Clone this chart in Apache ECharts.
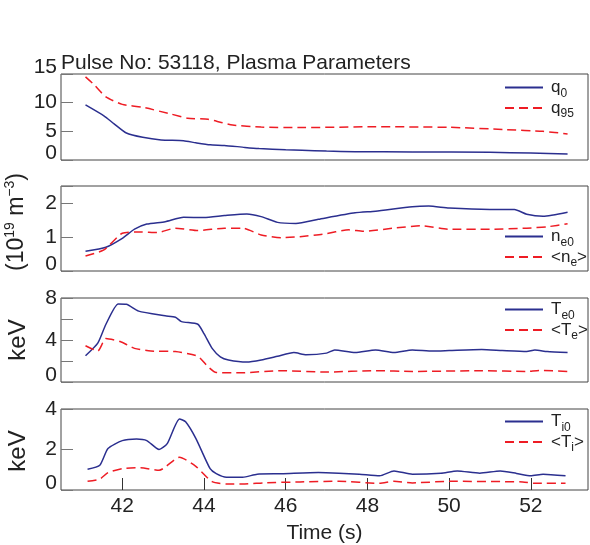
<!DOCTYPE html>
<html>
<head>
<meta charset="utf-8">
<script src="https://cdn.jsdelivr.net/npm/echarts@6/dist/echarts.min.js"></script>
<style>
  html, body { margin: 0; padding: 0; background: #fff; }
  #main { width: 590px; height: 545px; }
</style>
</head>
<body>
<div id="main"></div>
<script>
// * 等离子体参数 - 四个上下排列的面板
const chart = echarts.init(document.getElementById('main'))

// ? 数据：[时间 (s), 数值]
const q0 = [[41.1, 9.6], [41.55, 7.7], [41.8, 6.3], [42.1, 4.7], [42.5, 3.95], [42.95, 3.5], [43.5, 3.35], [43.8, 3.0], [44.15, 2.65], [44.5, 2.55], [45.0, 2.2], [45.35, 2.0], [46.0, 1.8], [46.4, 1.7], [47.0, 1.55], [47.7, 1.45], [49.1, 1.4], [51.0, 1.35], [52.0, 1.2], [52.9, 1.05]]
const q95 = [[41.1, 14.5], [41.3, 13.2], [41.6, 11.0], [42.0, 9.7], [42.5, 9.2], [43.2, 8.0], [43.6, 7.3], [44.1, 7.1], [44.4, 6.6], [44.7, 6.1], [45.4, 5.75], [46.4, 5.65], [48.2, 5.8], [50.0, 5.7], [51.4, 5.3], [52.3, 5.0], [52.9, 4.55]]
const ne0 = [[41.1, 0.58], [41.6, 0.70], [42.0, 0.96], [42.3, 1.23], [42.6, 1.38], [43.05, 1.45], [43.5, 1.58], [44.0, 1.57], [44.5, 1.63], [45.05, 1.68], [45.4, 1.6], [45.8, 1.43], [46.25, 1.40], [46.8, 1.52], [47.7, 1.71], [48.2, 1.76], [49.1, 1.89], [49.5, 1.91], [50.0, 1.85], [51.0, 1.81], [51.6, 1.81], [51.9, 1.67], [52.3, 1.61], [52.9, 1.73]]
const neAvg = [[41.1, 0.44], [41.55, 0.62], [42.0, 1.11], [42.45, 1.15], [42.85, 1.13], [43.3, 1.26], [43.85, 1.19], [44.5, 1.26], [44.95, 1.26], [45.4, 1.06], [45.9, 0.98], [46.35, 1.01], [46.9, 1.08], [47.55, 1.21], [47.9, 1.17], [48.65, 1.26], [49.3, 1.33], [50.0, 1.23], [51.0, 1.23], [51.9, 1.26], [52.4, 1.30], [52.9, 1.39]]
const te0 = [[41.1, 2.5], [41.4, 3.7], [41.6, 5.5], [41.9, 7.43], [42.1, 7.4], [42.4, 6.75], [43.05, 6.3], [43.3, 6.16], [43.45, 5.75], [43.85, 5.5], [44.0, 4.6], [44.2, 3.2], [44.4, 2.4], [44.6, 2.1], [45.05, 1.9], [45.4, 2.1], [45.8, 2.45], [46.2, 2.8], [46.5, 2.6], [47.0, 2.75], [47.2, 3.05], [47.7, 2.8], [48.2, 3.05], [48.65, 2.8], [49.1, 3.05], [49.6, 2.95], [50.0, 3.0], [50.8, 3.1], [51.3, 3.0], [51.9, 2.9], [52.1, 3.05], [52.4, 2.9], [52.9, 2.8]]
const teAvg = [[41.1, 3.45], [41.4, 2.95], [41.6, 4.15], [41.95, 3.85], [42.3, 3.2], [42.7, 2.95], [43.3, 2.9], [43.85, 2.45], [44.1, 1.45], [44.3, 0.9], [44.9, 0.88], [45.9, 1.08], [47.0, 0.95], [48.2, 1.08], [49.1, 1.0], [50.8, 1.08], [51.9, 1.0], [52.2, 1.1], [52.9, 1.0]]
const ti0 = [[41.15, 1.02], [41.45, 1.22], [41.65, 2.05], [42.0, 2.44], [42.35, 2.52], [42.6, 2.44], [42.9, 2.0], [43.1, 2.29], [43.4, 3.51], [43.55, 3.37], [43.8, 2.55], [44.15, 1.05], [44.3, 0.81], [44.55, 0.63], [44.95, 0.63], [45.3, 0.78], [45.9, 0.8], [46.8, 0.86], [47.3, 0.83], [47.8, 0.78], [48.3, 0.7], [48.65, 0.94], [49.1, 0.78], [49.8, 0.83], [50.2, 0.94], [50.75, 0.83], [51.25, 0.94], [51.65, 0.82], [52.0, 0.7], [52.3, 0.78], [52.85, 0.7]]
const tiAvg = [[41.15, 0.43], [41.45, 0.54], [41.65, 0.86], [42.0, 1.06], [42.45, 1.1], [42.9, 0.97], [43.4, 1.62], [43.8, 1.17], [44.2, 0.41], [44.55, 0.3], [45.0, 0.3], [45.45, 0.35], [46.35, 0.4], [47.3, 0.43], [48.3, 0.33], [48.65, 0.43], [49.1, 0.35], [50.0, 0.43], [51.8, 0.4], [52.1, 0.33], [52.85, 0.33]]

// ? 刻度
const timeTicks = [42, 44, 46, 48, 50, 52]
const neLabels = [0, 1, 2]
const teLabels = [0, 4, 8]

const FONT = 'Liberation Sans, Arial, sans-serif'
const BLUE = '#2b2f8f'
const RED = '#ee1c24'
const TEXT = '#222'

// 面板位置（上、高）
const panels = [
  { top: 74, height: 86 },
  { top: 186, height: 85 },
  { top: 298, height: 84 },
  { top: 409, height: 84 }
]

const grid = panels.map(p => ({
  left: 61, right: 2, top: p.top, height: p.height,
  show: true, borderColor: '#444', borderWidth: 1
}))

const xAxis = panels.map((p, i) => ({
  type: 'value', gridIndex: i, min: 40.5, max: 53.4,
  axisLine: { show: false },
  splitLine: { show: false },
  axisTick: i === 3
    ? { show: true, inside: true, length: 12, customValues: timeTicks, lineStyle: { color: '#333' } }
    : { show: false },
  axisLabel: i === 3
    ? { show: true, customValues: timeTicks, fontSize: 21, fontFamily: FONT, color: TEXT, margin: 6 }
    : { show: false },
  name: i === 3 ? 'Time (s)' : '',
  nameLocation: 'middle',
  nameGap: 33,
  nameTextStyle: { fontSize: 21, fontFamily: FONT, color: TEXT }
}))

const yBase = {
  type: 'value', min: 0,
  axisLine: { show: false },
  splitLine: { show: false },
  axisTick: { show: true, inside: true, length: 12, lineStyle: { color: '#777' } }
}
// 0 标签略微上移（底部留白）
const yLabel = {
  fontSize: 21, fontFamily: FONT, color: TEXT, margin: 4,
  formatter: v => (v === 0 ? '{lo|0}' : String(v)),
  rich: { lo: { fontSize: 21, fontFamily: FONT, color: TEXT, padding: [0, 0, 13, 0] } }
}

const yAxis = [
  { ...yBase, gridIndex: 0, max: 15, interval: 5,
    axisLabel: { ...yLabel, formatter: v => (v === 0 || v === 15 ? '{lo|' + v + '}' : String(v)) } },
  { ...yBase, gridIndex: 1, max: 2.5, interval: 1,
    axisLabel: { ...yLabel, customValues: neLabels } },
  { ...yBase, gridIndex: 2, max: 8, interval: 2,
    axisLabel: { ...yLabel, customValues: teLabels } },
  { ...yBase, gridIndex: 3, max: 4, interval: 2,
    axisLabel: { ...yLabel } }
]

// 图例文字（带下标）
const legendNames = {
  q0: '{m|q}{s|0}',
  q95: '{m|q}{s|95}',
  ne0: '{m|n}{s|e0}',
  neAvg: '{m|<n}{s|e}{m|>}',
  te0: '{m|T}{s|e0}',
  teAvg: '{m|<T}{s|e}{m|>}',
  ti0: '{m|T}{s|i0}',
  tiAvg: '{m|<T}{s|i}{m|>}'
}
const legendRich = {
  m: { fontSize: 17, lineHeight: 24, fontFamily: FONT, color: TEXT },
  s: { fontSize: 12, lineHeight: 12, fontFamily: FONT, color: TEXT, verticalAlign: 'bottom' }
}
const legendTops = [74, 223, 296, 408]
const legendPairs = [['q0', 'q95'], ['ne0', 'neAvg'], ['te0', 'teAvg'], ['ti0', 'tiAvg']]

const legend = legendPairs.map((names, i) => ({
  data: names,
  orient: 'vertical',
  left: 499, top: legendTops[i],
  itemWidth: 38, itemHeight: 14, itemGap: 0,
  itemStyle: { opacity: 0 },
  formatter: name => legendNames[name],
  textStyle: { padding: [0, 0, 0, 3], rich: legendRich }
}))

// 折线
function line (name, data, idx, dashed) {
  return {
    name, type: 'line', data,
    xAxisIndex: idx, yAxisIndex: idx,
    symbol: 'none', smooth: 0.2,
    lineStyle: { color: dashed ? RED : BLUE, width: 1.5, type: dashed ? [9, 5] : 'solid' },
    itemStyle: { color: dashed ? RED : BLUE }
  }
}

const series = [
  line('q0', q0, 0, false), line('q95', q95, 0, true),
  line('ne0', ne0, 1, false), line('neAvg', neAvg, 1, true),
  line('te0', te0, 2, false), line('teAvg', teAvg, 2, true),
  line('ti0', ti0, 3, false), line('tiAvg', tiAvg, 3, true)
]

// 纵轴名称（旋转文字）
const nameStyle = { fontSize: 24, fontFamily: FONT, fill: TEXT, align: 'center', verticalAlign: 'middle' }
const graphic = [
  { type: 'text', x: 17, y: 222, rotation: Math.PI / 2,
    style: { ...nameStyle,
      text: '{m|(10}{p|19}{m| m}{p|−3}{m|)}',
      rich: {
        m: { fontSize: 23, lineHeight: 28, fontFamily: FONT, fill: TEXT },
        p: { fontSize: 14, lineHeight: 14, fontFamily: FONT, fill: TEXT, verticalAlign: 'top' }
      } } },
  { type: 'text', x: 18, y: 340, rotation: Math.PI / 2, style: { ...nameStyle, text: 'keV' } },
  { type: 'text', x: 18, y: 451, rotation: Math.PI / 2, style: { ...nameStyle, text: 'keV' } }
]

const option = {
  animation: false,
  backgroundColor: '#fff',
  title: {
    text: 'Pulse No: 53118, Plasma Parameters',
    left: 61, top: 53, padding: 0,
    textStyle: { fontSize: 21, fontWeight: 'normal', fontFamily: FONT, color: TEXT }
  },
  grid, xAxis, yAxis, legend, series, graphic
}

chart.setOption(option)
</script>
</body>
</html>
